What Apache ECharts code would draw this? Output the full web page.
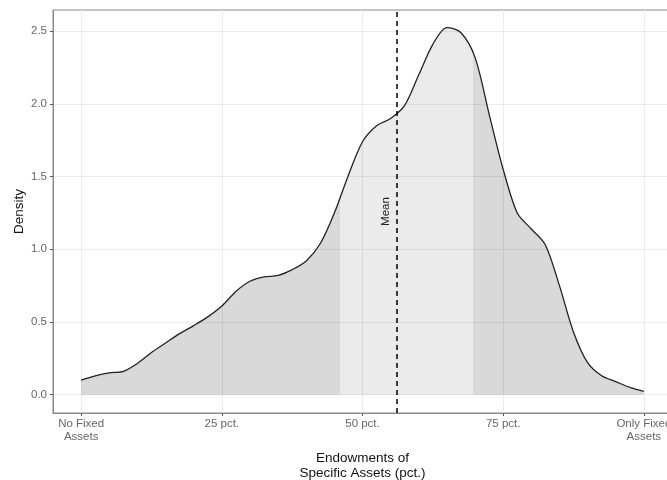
<!DOCTYPE html>
<html>
<head>
<meta charset="utf-8">
<script src="https://cdn.jsdelivr.net/npm/echarts@6/dist/echarts.min.js"></script>
<style>html,body{margin:0;padding:0;background:#fff}#c{width:667px;height:480px}</style>
</head>
<body>
<div id="c"></div>
<script>
// Data
const assetShare = [0, 2.5, 5, 7.5, 10, 12.5, 15, 17.5, 20, 22.5, 25, 27.5, 30, 32.5, 35, 37.5, 40, 42.5, 45, 47.5, 50, 52.5, 55, 57.5, 60, 62.5, 65, 67.5, 70, 72.5, 75, 77.5, 80, 82.5, 85, 87.5, 90, 92.5, 95, 97.5, 100];
const density = [0.10, 0.13, 0.15, 0.16, 0.215, 0.29, 0.355, 0.42, 0.475, 0.535, 0.61, 0.71, 0.78, 0.81, 0.82, 0.86, 0.92, 1.04, 1.25, 1.51, 1.74, 1.85, 1.90, 1.99, 2.20, 2.41, 2.525, 2.49, 2.32, 1.93, 1.55, 1.25, 1.14, 1.03, 0.75, 0.43, 0.22, 0.13, 0.09, 0.05, 0.022];
const meanValue = 56;
const bandLow = 46;
const bandHigh = 69.6;
const xTickValues = [0, 25, 50, 75, 100];
const xTickLabels = ['No Fixed\nAssets', '25 pct.', '50 pct.', '75 pct.', 'Only Fixed\nAssets'];
const yTickValues = [0, 0.5, 1.0, 1.5, 2.0, 2.5];
const yTickLabels = ['0.0', '0.5', '1.0', '1.5', '2.0', '2.5'];

const points = assetShare.map((x, i) => [x, density[i]]);
const font = 'Liberation Sans, Arial, sans-serif';

const chart = echarts.init(document.getElementById('c'), null, {renderer: 'canvas'});
chart.setOption({
  animation: false,
  backgroundColor: '#fff',
  grid: {left: 53, right: -5, top: 10, bottom: 67, show: true, borderColor: '#8a8a8a', borderWidth: 1, backgroundColor: 'transparent', containLabel: false, outerBoundsMode: 'none'},
  xAxis: {
    type: 'value', min: -5, max: 105,
    name: 'Endowments of\nSpecific Assets (pct.)', nameLocation: 'middle', nameGap: 38, nameMoveOverlap: false,
    nameTextStyle: {fontFamily: font, fontSize: 13.5, color: '#111', lineHeight: 15},
    axisLine: {show: true, onZero: false, lineStyle: {color: '#8a8a8a', width: 1}},
    axisTick: {show: true, length: 3, lineStyle: {color: '#555'}, customValues: xTickValues},
    axisLabel: {customValues: xTickValues, margin: 5, fontFamily: font, fontSize: 11.5, color: '#666', lineHeight: 12.4,
      formatter: v => xTickLabels[xTickValues.indexOf(v)] || ''},
    splitLine: {show: true, lineStyle: {color: '#ebebeb', width: 1}}
  },
  yAxis: {
    type: 'value', min: -0.126, max: 2.646,
    name: 'Density', nameLocation: 'middle', nameRotate: 90, nameGap: 27, nameMoveOverlap: false,
    nameTextStyle: {fontFamily: font, fontSize: 13.5, color: '#111'},
    axisLine: {show: true, onZero: false, lineStyle: {color: '#8a8a8a', width: 1}},
    axisTick: {show: true, length: 3, lineStyle: {color: '#555'}, customValues: yTickValues},
    axisLabel: {customValues: yTickValues, margin: 6, fontFamily: font, fontSize: 11.5, color: '#666',
      formatter: v => yTickLabels[yTickValues.indexOf(v)] || ''},
    splitLine: {show: true, lineStyle: {color: '#ebebeb', width: 1}}
  },
  visualMap: {
    show: false, type: 'piecewise', dimension: 0, seriesIndex: 0,
    pieces: [
      {lt: bandLow, color: 'rgba(0,0,0,0.15)'},
      {gte: bandLow, lt: bandHigh, color: 'rgba(0,0,0,0.08)'},
      {gte: bandHigh, color: 'rgba(0,0,0,0.15)'}
    ]
  },
  series: [{
    type: 'line', data: points, smooth: 0.3, symbol: 'none',
    lineStyle: {color: '#222', width: 1.3},
    areaStyle: {opacity: 1, origin: 0},
    markLine: {
      silent: true, symbol: 'none', animation: false,
      lineStyle: {color: '#000', type: [5, 4], width: 1.5},
      label: {show: true, formatter: 'Mean', position: 'insideMiddleTop', distance: 4, fontFamily: font, fontSize: 11.5, color: '#222'},
      data: [{xAxis: meanValue}]
    }
  }]
});
</script>
</body>
</html>
